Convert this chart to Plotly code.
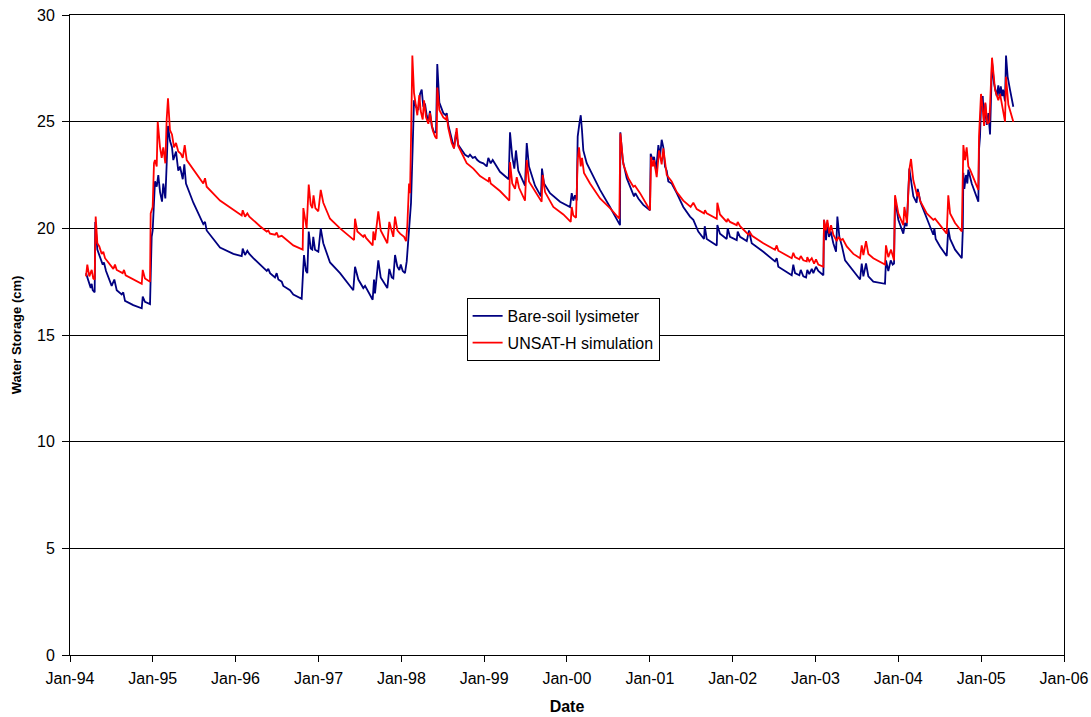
import pandas as pd
import plotly.graph_objects as go

# Time in decimal years since 1994-01-01, values in cm
lys_t = [0.193, 0.221, 0.250, 0.262, 0.274, 0.298, 0.305, 0.330, 0.362, 0.395, 0.410, 0.435, 0.503, 0.535, 0.564,
         0.624, 0.643, 0.664, 0.764, 0.866, 0.878, 0.905, 0.966, 0.974, 0.986, 0.998, 1.014, 1.026, 1.047, 1.066,
         1.087, 1.111, 1.126, 1.151, 1.167, 1.183, 1.207, 1.231, 1.247, 1.280, 1.307, 1.328, 1.361, 1.380, 1.400,
         1.489, 1.609, 1.630, 1.650, 1.811, 1.972, 2.073, 2.085, 2.113, 2.141, 2.165, 2.213, 2.375, 2.394, 2.415,
         2.475, 2.495, 2.515, 2.556, 2.575, 2.656, 2.696, 2.797, 2.813, 2.825, 2.849, 2.865, 2.882, 2.906, 2.925,
         2.937, 2.958, 2.998, 3.027, 3.058, 3.139, 3.260, 3.420, 3.441, 3.481, 3.541, 3.562, 3.654, 3.670, 3.682,
         3.722, 3.751, 3.831, 3.855, 3.884, 3.903, 3.924, 3.952, 3.976, 3.993, 4.017, 4.044, 4.065, 4.072, 4.096,
         4.117, 4.137, 4.153, 4.177, 4.205, 4.226, 4.246, 4.265, 4.286, 4.306, 4.326, 4.346, 4.367, 4.395, 4.419,
         4.434, 4.459, 4.507, 4.536, 4.548, 4.567, 4.608, 4.636, 4.660, 4.688, 4.769, 4.809, 4.829, 4.862, 4.890,
         4.917, 4.950, 4.990, 5.031, 5.050, 5.079, 5.103, 5.191, 5.272, 5.296, 5.312, 5.339, 5.364, 5.384, 5.412,
         5.493, 5.514, 5.541, 5.614, 5.686, 5.698, 5.723, 5.795, 5.916, 6.037, 6.057, 6.076, 6.097, 6.117, 6.129,
         6.149, 6.166, 6.181, 6.197, 6.238, 6.298, 6.399, 6.519, 6.600, 6.640, 6.644, 6.673, 6.721, 6.781, 6.809,
         6.825, 6.861, 6.921, 7.002, 7.010, 7.035, 7.051, 7.075, 7.103, 7.123, 7.143, 7.163, 7.183, 7.204, 7.223,
         7.264, 7.325, 7.404, 7.485, 7.525, 7.585, 7.654, 7.663, 7.687, 7.808, 7.815, 7.847, 7.928, 7.940, 7.968,
         8.049, 8.061, 8.089, 8.170, 8.197, 8.230, 8.370, 8.511, 8.532, 8.551, 8.713, 8.732, 8.753, 8.805, 8.822,
         8.853, 8.886, 8.901, 8.925, 8.955, 8.974, 9.006, 9.034, 9.095, 9.103, 9.127, 9.143, 9.163, 9.184, 9.215,
         9.248, 9.264, 9.288, 9.317, 9.357, 9.457, 9.538, 9.558, 9.578, 9.610, 9.638, 9.698, 9.839, 9.851, 9.879,
         9.908, 9.932, 9.948, 9.960, 10.000, 10.060, 10.081, 10.101, 10.133, 10.162, 10.181, 10.221, 10.234, 10.270,
         10.343, 10.422, 10.435, 10.451, 10.503, 10.584, 10.603, 10.625, 10.685, 10.766, 10.778, 10.785, 10.797,
         10.817, 10.833, 10.845, 10.886, 10.946, 10.966, 10.974, 10.986, 10.998, 11.019, 11.035, 11.050, 11.067,
         11.087, 11.107, 11.119, 11.131, 11.155, 11.188, 11.207, 11.219, 11.237, 11.252, 11.265, 11.288, 11.300,
         11.320, 11.348, 11.388]
lys_v = [17.9, 17.6, 17.2, 17.4, 17.1, 17.0, 20.3, 19.0, 18.7, 18.3, 18.4, 18.0, 17.3, 17.6, 17.1,
         16.9, 17.0, 16.6, 16.4, 16.25, 16.8, 16.55, 16.45, 17.4, 19.6, 19.9, 21.0, 22.2, 21.95, 22.5,
         21.7, 21.25, 22.1, 21.4, 23.0, 24.8, 24.1, 23.8, 23.2, 23.6, 22.7, 22.9, 22.3, 23.0, 22.1,
         21.2, 20.2, 20.3, 19.9, 19.1, 18.8, 18.7, 19.05, 18.75, 18.95, 18.8, 18.6, 18.0, 18.1, 17.9,
         17.7, 17.9, 17.6, 17.5, 17.3, 17.1, 16.9, 16.7, 17.9, 18.75, 18.0, 17.9, 19.85, 19.05, 19.0,
         19.6, 19.0, 18.9, 20.0, 19.3, 18.4, 17.9, 17.1, 18.2, 17.6, 17.2, 17.3, 16.65, 17.6, 16.95,
         18.5, 17.7, 17.2, 18.1, 17.7, 17.65, 18.75, 18.2, 18.05, 18.3, 18.0, 17.9, 18.45, 18.8, 20.1,
         21.2, 23.8, 26.0, 25.7, 25.55, 26.3, 26.5, 25.7, 25.85, 25.3, 25.0, 25.5, 24.8, 24.5, 24.5,
         27.7, 25.9, 25.4, 25.3, 25.4, 24.85, 24.2, 23.75, 24.5, 23.9, 23.45, 23.35, 23.45, 23.3, 23.35,
         23.2, 23.1, 23.05, 22.9, 23.3, 23.05, 23.2, 22.65, 22.4, 22.3, 24.5, 23.35, 22.8, 23.65, 22.7,
         22.0, 24.0, 22.9, 22.0, 21.5, 22.8, 22.1, 21.65, 21.25, 21.0, 21.65, 21.3, 21.55, 21.3, 24.3,
         24.9, 25.3, 24.6, 23.65, 23.05, 22.6, 21.8, 21.0, 20.45, 20.15, 24.5, 23.2, 22.35, 21.7, 21.5,
         21.65, 21.4, 21.1, 20.85, 23.5, 23.2, 23.35, 22.7, 23.9, 23.35, 24.15, 23.8, 22.9, 22.7, 22.2,
         22.1, 21.65, 21.0, 20.55, 20.4, 19.85, 19.5, 20.1, 19.5, 19.2, 20.15, 19.75, 19.5, 20.0, 19.6,
         19.45, 19.85, 19.6, 19.4, 19.9, 19.3, 18.9, 18.45, 18.6, 18.2, 17.8, 18.3, 17.9, 17.8, 18.05,
         17.75, 17.7, 18.05, 17.85, 18.1, 17.9, 18.2, 18.0, 17.8, 20.4, 19.45, 20.25, 19.6, 19.85, 19.3,
         18.9, 20.55, 19.6, 19.2, 18.5, 18.0, 17.6, 18.35, 17.75, 18.35, 17.75, 17.5, 17.4, 18.5, 18.0,
         18.5, 18.3, 18.35, 21.4, 20.4, 19.75, 20.25, 20.1, 22.8, 22.1, 21.5, 21.2, 21.85, 21.2,
         20.5, 19.7, 20.0, 19.5, 19.15, 18.7, 20.0, 19.5, 19.0, 18.6, 19.9, 22.6, 21.85,
         22.5, 22.1, 22.75, 22.1, 21.5, 21.25, 23.7, 24.3, 25.7, 26.2, 24.9, 25.85, 24.85,
         25.4, 24.4, 26.3, 27.8, 26.8, 26.2, 26.7, 26.2, 26.65, 26.2, 26.5, 25.95, 28.1,
         27.1, 26.5, 25.7]

sim_t = [0.193, 0.209, 0.233, 0.262, 0.281, 0.298, 0.310, 0.330, 0.354, 0.383, 0.402, 0.423, 0.523, 0.543, 0.564,
         0.636, 0.652, 0.672, 0.866, 0.878, 0.905, 0.966, 0.974, 0.986, 0.998, 1.014, 1.026, 1.047, 1.059, 1.087,
         1.107, 1.126, 1.151, 1.167, 1.183, 1.207, 1.231, 1.256, 1.280, 1.307, 1.337, 1.361, 1.385, 1.409, 1.489,
         1.609, 1.630, 1.650, 1.811, 1.972, 2.073, 2.085, 2.113, 2.141, 2.165, 2.294, 2.375, 2.394, 2.415, 2.475,
         2.495, 2.515, 2.556, 2.696, 2.809, 2.817, 2.838, 2.857, 2.882, 2.906, 2.925, 2.940, 2.962, 2.998, 3.027,
         3.058, 3.139, 3.260, 3.429, 3.441, 3.469, 3.541, 3.556, 3.574, 3.654, 3.662, 3.682, 3.722, 3.751, 3.831,
         3.855, 3.884, 3.903, 3.924, 3.952, 3.985, 4.033, 4.057, 4.072, 4.093, 4.105, 4.117, 4.133, 4.153, 4.173,
         4.193, 4.217, 4.234, 4.258, 4.274, 4.298, 4.326, 4.346, 4.379, 4.407, 4.427, 4.434, 4.459, 4.507, 4.540,
         4.548, 4.567, 4.608, 4.636, 4.668, 4.688, 4.789, 4.869, 4.950, 5.050, 5.062, 5.079, 5.191, 5.304, 5.312,
         5.339, 5.373, 5.393, 5.421, 5.493, 5.514, 5.541, 5.694, 5.706, 5.735, 5.835, 5.956, 6.045, 6.057, 6.076,
         6.109, 6.129, 6.145, 6.166, 6.181, 6.205, 6.278, 6.399, 6.519, 6.632, 6.644, 6.680, 6.740, 6.801, 6.821,
         6.882, 7.002, 7.015, 7.035, 7.051, 7.083, 7.111, 7.143, 7.163, 7.204, 7.264, 7.325, 7.404, 7.493, 7.525,
         7.566, 7.654, 7.666, 7.687, 7.808, 7.815, 7.847, 7.928, 7.940, 7.968, 8.049, 8.061, 8.089, 8.190, 8.210,
         8.234, 8.370, 8.511, 8.532, 8.551, 8.713, 8.732, 8.753, 8.805, 8.822, 8.853, 8.894, 8.901, 8.925, 8.955,
         8.983, 9.006, 9.034, 9.095, 9.103, 9.124, 9.143, 9.167, 9.188, 9.215, 9.256, 9.276, 9.305, 9.329, 9.377,
         9.457, 9.538, 9.558, 9.578, 9.610, 9.638, 9.698, 9.839, 9.851, 9.879, 9.912, 9.948, 9.960, 10.000, 10.060,
         10.073, 10.105, 10.133, 10.153, 10.181, 10.229, 10.242, 10.262, 10.343, 10.422, 10.443, 10.584, 10.603,
         10.625, 10.685, 10.766, 10.785, 10.805, 10.825, 10.845, 10.866, 10.946, 10.966, 10.974, 10.998, 11.019,
         11.035, 11.050, 11.075, 11.099, 11.119, 11.131, 11.167, 11.207, 11.228, 11.288, 11.300, 11.328, 11.388]
sim_v = [17.75, 18.3, 17.75, 18.05, 17.65, 17.6, 20.55, 19.3, 19.15, 18.8, 18.9, 18.6, 18.1, 18.3, 18.05,
         17.9, 18.05, 17.8, 17.4, 18.05, 17.65, 17.5, 20.7, 20.85, 21.0, 23.05, 23.2, 22.9, 25.0, 23.8,
         23.3, 23.8, 23.05, 25.1, 26.1, 24.6, 24.4, 23.8, 24.0, 23.6, 23.5, 23.3, 23.9, 23.2, 22.75,
         22.1, 22.35, 21.95, 21.3, 20.85, 20.6, 20.85, 20.55, 20.7, 20.55, 20.1, 19.85, 19.9, 19.75, 19.7,
         19.8, 19.6, 19.65, 19.2, 19.0, 20.95, 20.4, 20.0, 22.05, 21.1, 20.95, 21.55, 20.95, 20.8, 21.8,
         21.2, 20.45, 20.0, 19.45, 20.45, 19.85, 19.6, 19.7, 19.55, 19.2, 19.85, 19.45, 20.8, 19.9, 19.3,
         20.3, 19.8, 19.6, 20.55, 19.9, 19.75, 19.6, 19.4, 20.1, 22.1, 21.65, 24.15, 28.1, 26.35, 25.8,
         25.3, 26.25, 25.5, 25.1, 26.0, 25.2, 24.9, 25.4, 24.6, 24.3, 24.2, 26.6, 25.55, 25.2, 25.1,
         25.3, 24.7, 24.0, 23.75, 24.7, 23.85, 23.05, 22.8, 22.45, 22.2, 22.4, 22.1, 21.75, 21.3, 23.1,
         22.1, 21.85, 22.4, 21.9, 21.3, 23.2, 22.2, 21.25, 22.5, 21.7, 21.0, 20.65, 20.3, 21.0, 20.6,
         20.5, 23.2, 23.8, 22.9, 23.3, 22.6, 22.1, 21.4, 20.95, 20.45, 24.45, 23.0, 22.35, 21.95, 22.0,
         21.65, 20.85, 23.35, 22.9, 23.2, 22.4, 23.65, 23.0, 23.75, 22.5, 22.2, 21.7, 21.3, 21.0, 21.2,
         20.9, 20.7, 20.85, 20.7, 20.45, 21.2, 20.65, 20.3, 20.45, 20.3, 20.15, 20.3, 20.1, 19.7, 19.8,
         19.65, 19.3, 19.0, 19.2, 18.95, 18.6, 18.85, 18.65, 18.55, 18.7, 18.5, 18.45, 18.65, 18.45, 18.6,
         18.35, 18.55, 18.3, 18.2, 20.4, 19.9, 20.4, 19.75, 20.15, 19.7, 19.4, 19.6, 19.45, 19.5, 19.15,
         18.8, 18.6, 19.2, 18.75, 19.4, 18.8, 18.6, 18.3, 19.2, 18.65, 19.0, 18.5, 21.55, 20.7, 20.15,
         21.0, 20.25, 22.75, 23.25, 22.25, 21.5, 21.7, 21.3, 20.7, 20.4, 20.45, 19.75, 21.55,
         20.7, 20.25, 19.85, 23.9, 23.2, 23.8, 22.9, 22.75, 21.95, 21.8, 24.3, 26.3, 25.6,
         24.8, 25.9, 24.9, 25.0, 26.5, 28.0, 26.5, 26.0, 26.3, 25.0, 27.1, 25.8, 25.0]

series_names = ["Bare-soil lysimeter", "UNSAT-H simulation"]
series_colors = ["#000080", "#FF0000"]

start = pd.Timestamp("1994-01-01")


def to_dates(t):
    return [start + pd.to_timedelta(v * 365.25, unit="D") for v in t]


FONT = "Arial, 'Liberation Sans', sans-serif"

fig = go.Figure()
for i, (t, v) in enumerate([(lys_t, lys_v), (sim_t, sim_v)]):
    fig.add_trace(go.Scatter(
        x=to_dates(t), y=v, mode="lines", name=series_names[i],
        line=dict(color=series_colors[i], width=1.8),
        legendgroup=f"g{i}",
    ))

fig.update_layout(
    width=1091, height=717,
    margin=dict(l=70, r=27, t=15, b=62, autoexpand=False),
    paper_bgcolor="white", plot_bgcolor="white",
    font=dict(family=FONT, size=16, color="black"),
    showlegend=True,
    legend=dict(
        x=0.399, y=0.558, xanchor="left", yanchor="top",
        bgcolor="white", bordercolor="black", borderwidth=1,
        font=dict(family=FONT, size=16, color="black"),
        tracegroupgap=3, itemwidth=30,
    ),
    xaxis=dict(
        type="date", automargin=False,
        range=["1994-01-01", "2006-01-01"],
        tick0="1994-01-01", dtick="M12", tickformat="%b-%y",
        ticks="outside", ticklen=6, tickcolor="black",
        ticklabelstandoff=3, ticklabeloverflow="allow",
        showline=True, linecolor="black", linewidth=1, mirror=True,
        showgrid=False, zeroline=False,
        tickfont=dict(size=16),
        title=dict(text="<b>Date</b>", font=dict(size=16), standoff=14),
    ),
    yaxis=dict(
        range=[0, 30], tick0=0, dtick=5, automargin=False,
        ticks="outside", ticklen=7, tickcolor="black",
        ticklabelstandoff=4, ticklabeloverflow="allow",
        showline=True, linecolor="black", linewidth=1, mirror=True,
        showgrid=True, gridcolor="black", gridwidth=1,
        zeroline=False,
        tickfont=dict(size=16),
        title=dict(text="<b>Water Storage (cm)</b>", font=dict(size=13), standoff=12),
    ),
)

# remove the default page margin and scrollbars so the figure fills the window exactly
fig.write_html(
    "out.html",
    config={"displayModeBar": False},
    post_script=(
        "document.body.style.margin='0';"
        "document.body.style.overflow='hidden';"
        "document.documentElement.style.overflow='hidden';"
    ),
)
